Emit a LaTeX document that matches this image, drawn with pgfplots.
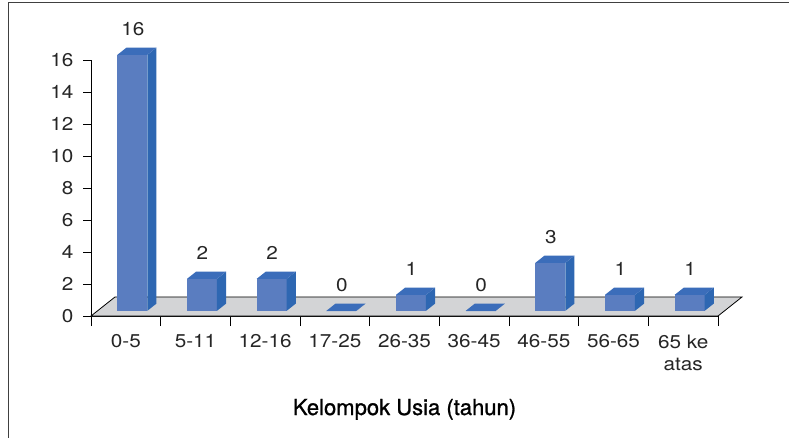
\documentclass[border=0pt]{standalone}
\usepackage{fontspec}
\setmainfont{TeX Gyre Heros}
\newfontfamily\tickfont{TeX Gyre Heros}[FakeStretch=1.12]
\newfontfamily\titlefont{TeX Gyre Heros}[FakeBold=1.0]
\usepackage{pgfplots}
\usepackage{pgfplotstable}
\pgfplotsset{compat=1.18}
\definecolor{cfront}{RGB}{90,125,192}
\definecolor{cside}{RGB}{46,103,178}
\definecolor{ctop}{RGB}{59,109,186}
\definecolor{cfloor}{RGB}{211,212,214}

% corner offsets of one 3D bar (h=1: corner is raised by the bar value)
\pgfplotstableread{
dx dy h
-0.122 0.321 0
0.308 0.321 0
0.308 0.321 1
-0.122 0.321 1
}\frontface
\pgfplotstableread{
dx dy h
0.308 0.321 0
0.439 0.7735 0
0.439 0.7735 1
0.308 0.321 1
}\sideface
\pgfplotstableread{
dx dy h
-0.122 0.321 1
0.308 0.321 1
0.439 0.7735 1
0.009 0.7735 1
}\topface

\newcommand{\tdbar}[2]{%
 \addplot[fill=cfront, draw=none] table[x expr={#1+\thisrow{dx}}, y expr={\thisrow{dy}+#2*\thisrow{h}}]{\frontface};
 \addplot[fill=cside, draw=none] table[x expr={#1+\thisrow{dx}}, y expr={\thisrow{dy}+#2*\thisrow{h}}]{\sideface};
 \addplot[fill=ctop, draw=none] table[x expr={#1+\thisrow{dx}}, y expr={\thisrow{dy}+#2*\thisrow{h}}]{\topface};
}

\begin{document}
\begin{tikzpicture}
\useasboundingbox (0,0) rectangle (789pt,437pt);
\fill[white] (0,0) rectangle (789pt,437pt);
\draw[black!75, line width=1pt] (8pt,-20pt) -- (8pt,434pt) -- (820pt,434pt);
\begin{axis}[
 at={(91pt,121pt)}, anchor=south west,
 scale only axis, width=627pt, height=256pt,
 xmin=-0.5, xmax=8.5, ymin=0, ymax=16,
 clip=false,
 axis x line=bottom, axis y line=left,
 axis line style={-, black, line width=0.8pt},
 tick align=outside,
 tick style={black, line width=0.8pt},
 major tick length=8pt,
 minor tick length=10pt,
 ytick={0,2,...,16},
 xtick={0,...,8},
 xticklabels={0-5,5-11,12-16,17-25,26-35,36-45,46-55,56-65,{65 ke\\atas}},
 major x tick style={draw=none},
 minor xtick={-0.5,0.5,...,8.5},
 /pgf/number format/assume math mode=true,
 ticklabel style={font=\tickfont\fontsize{18.5}{22.5}\selectfont, text=black!85},
 xticklabel style={align=center, yshift=-7pt},
 yticklabel style={xshift=-6pt},
 xlabel={Kelompok Usia (tahun)},
 xlabel style={at={(axis description cs:0.5,0)}, anchor=base, yshift=-99pt, font=\titlefont\fontsize{22}{26}\selectfont},
]
\addplot[fill=cfloor, draw=black, line width=0.8pt] coordinates {(-0.5,0) (8.5,0) (8.845,1.19) (-0.155,1.19)} -- cycle;
\tdbar{0}{16}
\tdbar{1}{2}
\tdbar{2}{2}
\tdbar{3}{0}
\tdbar{4}{1}
\tdbar{5}{0}
\tdbar{6}{3}
\tdbar{7}{1}
\tdbar{8}{1}
\addplot[draw=none, mark=none, nodes near coords,
  every node near coord/.append style={anchor=center, yshift=31.2pt, text=black!85, font=\tickfont\fontsize{18.5}{22}\selectfont}]
  coordinates {(0.1,16) (1.1,2) (2.1,2) (3.1,0) (4.1,1) (5.1,0) (6.1,3) (7.1,1) (8.1,1)};
\end{axis}
\end{tikzpicture}
\end{document}
